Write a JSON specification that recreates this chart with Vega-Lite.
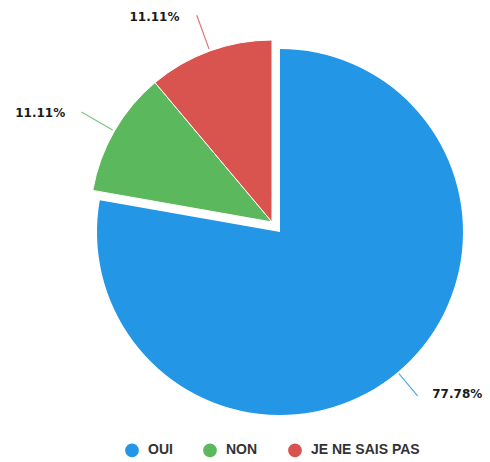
{
  "$schema": "https://vega.github.io/schema/vega-lite/v6.json",
  "width": 400,
  "height": 400,
  "autosize": {"type": "none"},
  "padding": {"left": 72, "top": 22, "right": 18, "bottom": 40},
  "background": "white",
  "config": {"view": {"stroke": null}, "legend": {"layout": {"bottom": {"anchor": "middle"}}}},
  "data": {
    "values": [
      {"cat": "OUI", "n": 7, "s": 0, "e": 7, "m": 3.5, "pct": "77.78%"},
      {"cat": "NON", "n": 1, "s": 7, "e": 8, "m": 7.5, "pct": "11.11%"},
      {"cat": "JE NE SAIS PAS", "n": 1, "s": 8, "e": 9, "m": 8.5, "pct": "11.11%"}
    ]
  },
  "layer": [
    {
      "transform": [{"filter": "datum.cat != 'OUI'"}],
      "mark": {"type": "arc", "radius": 182, "stroke": "white", "strokeWidth": 1},
      "encoding": {
        "theta": {"field": "s", "type": "quantitative", "scale": {"domain": [0, 9]}},
        "theta2": {"field": "e"},
        "color": {
          "field": "cat",
          "type": "nominal",
          "sort": ["OUI", "NON", "JE NE SAIS PAS"],
          "scale": {"domain": ["OUI", "NON", "JE NE SAIS PAS"], "range": ["#2397e6", "#5cb85c", "#d9534f"]},
          "legend": {
            "orient": "bottom",
            "direction": "horizontal",
            "title": null,
            "symbolType": "circle",
            "symbolSize": 150,
            "labelFont": "Liberation Sans",
            "labelFontSize": 14,
            "labelFontWeight": "bold",
            "labelColor": "#333333",
            "columnPadding": 27,
            "labelOffset": 9,
            "offset": 21
          }
        }
      }
    },
    {
      "transform": [{"filter": "datum.cat == 'OUI'"}],
      "mark": {"type": "arc", "radius": 183, "x": {"expr": "width/2 + 8"}, "y": {"expr": "height/2 + 10"}},
      "encoding": {
        "theta": {"field": "s", "type": "quantitative", "scale": {"domain": [0, 9]}},
        "theta2": {"field": "e"},
        "color": {"field": "cat", "type": "nominal"}
      }
    },
    {
      "transform": [{"filter": "datum.cat != 'OUI'"}],
      "mark": {"type": "arc", "radius": 220, "radius2": 184, "filled": false, "strokeWidth": 1.2, "opacity": 0.8},
      "encoding": {
        "theta": {"field": "m", "type": "quantitative", "scale": {"domain": [0, 9]}},
        "theta2": {"field": "m"},
        "stroke": {
          "field": "cat",
          "type": "nominal",
          "scale": {"domain": ["OUI", "NON", "JE NE SAIS PAS"], "range": ["#2397e6", "#5cb85c", "#d9534f"]},
          "legend": null
        }
      }
    },
    {
      "transform": [{"filter": "datum.cat == 'OUI'"}],
      "mark": {"type": "arc", "radius": 214, "radius2": 185, "filled": false, "strokeWidth": 1.2, "opacity": 0.8, "x": {"expr": "width/2 + 8"}, "y": {"expr": "height/2 + 10"}},
      "encoding": {
        "theta": {"field": "m", "type": "quantitative", "scale": {"domain": [0, 9]}},
        "theta2": {"field": "m"},
        "stroke": {"field": "cat", "type": "nominal", "legend": null}
      }
    },
    {
      "transform": [{"filter": "datum.cat != 'OUI'"}],
      "mark": {"type": "text", "radius": 218, "align": "right", "baseline": "middle", "dx": -18, "font": "DejaVu Sans", "fontSize": 12, "fontWeight": "bold", "color": "#1a1a1a"},
      "encoding": {
        "theta": {"field": "m", "type": "quantitative", "scale": {"domain": [0, 9]}},
        "text": {"field": "pct"}
      }
    },
    {
      "transform": [{"filter": "datum.cat == 'OUI'"}],
      "mark": {"type": "text", "radius": 212, "align": "left", "baseline": "middle", "dx": 16, "font": "DejaVu Sans", "fontSize": 12, "fontWeight": "bold", "color": "#1a1a1a", "x": {"expr": "width/2 + 8"}, "y": {"expr": "height/2 + 10"}},
      "encoding": {
        "theta": {"field": "m", "type": "quantitative", "scale": {"domain": [0, 9]}},
        "text": {"field": "pct"}
      }
    }
  ]
}
